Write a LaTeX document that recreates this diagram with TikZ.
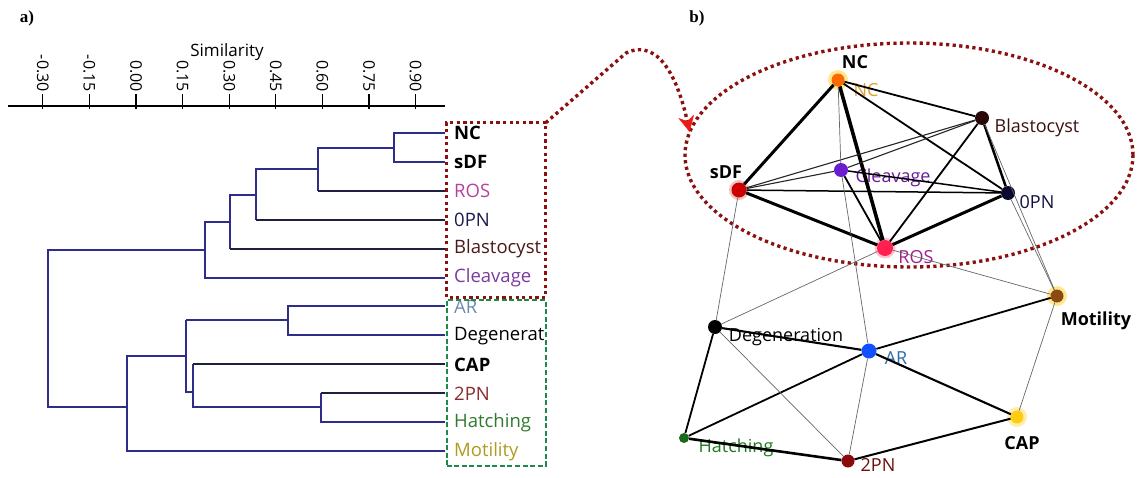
\documentclass[tikz,border=0pt]{standalone}
\usepackage{fontspec}
\setmainfont{Open Sans}
\newfontfamily\panelfont{Liberation Serif}
\usetikzlibrary{arrows.meta,shapes.geometric}

\definecolor{dnavy}{HTML}{2E2E8A}
\definecolor{dline}{HTML}{1E1E40}
\definecolor{boxred}{HTML}{8B1010}
\definecolor{boxgreen}{HTML}{1E8A4A}
\definecolor{arrred}{HTML}{F01818}
% dendrogram leaf colours
\definecolor{cROS}{HTML}{B8409A}
\definecolor{cOPN}{HTML}{1A1A50}
\definecolor{cBla}{HTML}{4A1818}
\definecolor{cCle}{HTML}{7A3A9E}
\definecolor{cAR}{HTML}{6A8AB0}
\definecolor{cTPN}{HTML}{8A2A2A}
\definecolor{cHat}{HTML}{2E7A2E}
\definecolor{cMot}{HTML}{B09A20}
% network label colours
\definecolor{nNC}{HTML}{E0A030}
\definecolor{nBla}{HTML}{3A1010}
\definecolor{nCle}{HTML}{6A1A9A}
\definecolor{nOPN}{HTML}{101040}
\definecolor{nROS}{HTML}{A0208A}
\definecolor{nAR}{HTML}{2E6AA8}
\definecolor{nHat}{HTML}{1E7A1E}
\definecolor{nTPN}{HTML}{6A1010}
% network node colours
\definecolor{fNC}{HTML}{FF6A00}
\definecolor{fBla}{HTML}{2A0808}
\definecolor{fsDF}{HTML}{CC0000}
\definecolor{fCle}{HTML}{6A1ED0}
\definecolor{fOPN}{HTML}{0A0A30}
\definecolor{fROS}{HTML}{FF2050}
\definecolor{fMot}{HTML}{8B4A10}
\definecolor{fAR}{HTML}{1050FF}
\definecolor{fHat}{HTML}{1A6A1A}
\definecolor{fTPN}{HTML}{8A0A0A}
\definecolor{fCAP}{HTML}{FFCC10}
\definecolor{glowY}{HTML}{FFD84A}

\tikzset{
  txt/.style={font=\fontsize{18}{21}\selectfont, inner sep=0pt},
  btxt/.style={font=\fontsize{18}{21}\selectfont\bfseries, inner sep=0pt},
  leaf/.style={font=\fontsize{18.5}{21}\selectfont, inner sep=0pt, anchor=west},
  bleaf/.style={font=\fontsize{18.5}{21}\selectfont\bfseries, inner sep=0pt, anchor=west},
  ticklab/.style={font=\fontsize{16}{18}\selectfont, rotate=-90, anchor=east, inner sep=0pt},
  dendro/.style={line width=1.4pt, dnavy},
  dendrodk/.style={line width=1.4pt, dline},
  reddots/.style={boxred, line width=3.4pt, dash pattern=on 3.2pt off 3.4pt},
  vtx/.style={circle, inner sep=0pt, minimum size=14pt},
  ethick/.style={black, line width=3pt},
  emid/.style={black, line width=1.8pt},
  elight/.style={black!85, line width=1.1pt},
  ethin/.style={black!60, line width=0.7pt},
  panel/.style={font=\panelfont\bfseries\fontsize{17}{19}\selectfont, inner sep=0pt}
}

\begin{document}
\begin{tikzpicture}[x=1pt,y=-1pt]
\useasboundingbox (0,0) rectangle (1143,477);

% ---------- panel a: dendrogram ----------
\node[panel] (pa) at (27,18) {a)};
\node[font=\fontsize{17}{20}\selectfont, inner sep=0pt] (simlab) at (227,52) {Similarity};

\draw[line width=1.4pt] (8,106) -- (445,106);
\foreach \v/\t in {-0.30/-0.30,-0.15/-0.15,0.00/0.00,0.15/0.15,0.30/0.30,0.45/0.45,0.60/0.60,0.75/0.75,0.90/0.90}{
  \pgfmathsetmacro{\xx}{136+\v*310.7}
  \draw[line width=1.2pt] (\xx,94) -- (\xx,109);
  \node[ticklab] at (\xx,92) {\t};
}

% leaves
\foreach \nm/\yy in {NC/133,sDF/162,ROS/191,OPN/220,Bla/249,Cle/278,AR/306,Deg/335,CAP/364,TPN/393,Hat/422,Mot/451}{
  \coordinate (L\nm) at (445,\yy);
}
\node[bleaf] at (454,133) {NC};
\node[bleaf] at (454,162) {sDF};
\node[leaf, text=cROS] at (454,191) {ROS};
\node[leaf, text=cOPN] at (454,220) {0PN};
\node[leaf, text=cBla] at (454,249) {Blastocyst};
\node[leaf, text=cCle] at (454,278) {Cleavage};
\node[leaf, text=cAR] at (454,307) {AR};
\node[leaf] at (454,336) {Degenerat};
\node[bleaf] at (454,365) {CAP};
\node[leaf, text=cTPN] at (454,394) {2PN};
\node[leaf, text=cHat] at (454,423) {Hatching};
\node[leaf, text=cMot] at (454,452) {Motility};

% upper cluster
\draw[dendro] (LNC) -- (394,133) -- (394,162) -- (LsDF);
\draw[dendro] (394,148) -- (318,148) -- (318,191);
\draw[dendrodk] (318,191) -- (LROS);
\draw[dendro] (318,169) -- (256,169) -- (256,220);
\draw[dendrodk] (256,220) -- (LOPN);
\draw[dendro] (256,195) -- (230,195) -- (230,249);
\draw[dendrodk] (230,249) -- (LBla);
\draw[dendro] (230,222) -- (205,222) -- (205,278) -- (LCle);
% root
\draw[dendro] (205,250) -- (48,250) -- (48,407) -- (127,407);
% lower cluster
\draw[dendro] (LAR) -- (288,306) -- (288,335) -- (LDeg);
\draw[dendro] (288,320) -- (186,320);
\draw[dendrodk] (LTPN) -- (321,393);
\draw[dendro] (321,393) -- (321,422) -- (LHat);
\draw[dendro] (321,407) -- (193,407) -- (193,364);
\draw[dendrodk] (193,364) -- (LCAP);
\draw[dendro] (193,392) -- (186,392) -- (186,320);
\draw[dendro] (186,356) -- (127,356) -- (127,451) -- (LMot);

% group boxes
\node[minimum width=99pt, minimum height=174pt, inner sep=0pt] (redbox) at (496,210) {};
\draw[reddots, line width=3pt] (redbox.south west) rectangle (redbox.north east);
\node[draw=boxgreen, dash pattern=on 5pt off 2.6pt, line width=2pt, minimum width=99pt, minimum height=166pt, inner sep=0pt] (greenbox) at (496,383) {};

% ---------- panel b: network ----------
\node[panel] (pb) at (697,18) {b)};

% cluster outline
\node[ellipse, minimum width=448pt, minimum height=224pt, inner sep=0pt] (cluster) at (909,155) {};
\draw[reddots] (909,155) ellipse [x radius=224pt, y radius=112pt];

% connector from the box to the cluster outline
\draw[reddots, -{Stealth[length=16pt, width=16pt, inset=5pt, color=arrred, fill=arrred, line width=0.5pt]}]
  (redbox.north east) -- (626,53) .. controls (662,36) and (680,88) .. (cluster.174);

% labels (drawn first so edges run across them)
\node[btxt] (tNC) at (855,62) {NC};
\node[txt, text=nNC] (tNC2) at (866,90) {NC};
\node[txt, text=nBla] (tBla) at (1037,128) {Blastocyst};
\node[btxt] (tsDF) at (726,172) {sDF};
\node[txt, text=nCle] (tCle) at (893,178) {Cleavage};
\node[txt, text=nOPN] (tOPN) at (1037,202) {0PN};
\node[txt, text=nROS] (tROS) at (916,257) {ROS};
\node[btxt] (tMot) at (1096,321) {Motility};
\node[txt] (tDeg) at (786,337) {Degeneration};
\node[txt, text=nAR] (tAR) at (896,358) {AR};
\node[txt, text=nHat] (tHat) at (736,448) {Hatching};
\node[txt, text=nTPN] (tTPN) at (878,465) {2PN};
\node[btxt] (tCAP) at (1022,443) {CAP};

% glows
\fill[glowY, opacity=0.6] (838,80) circle (10pt);
\fill[glowY, opacity=0.6] (1057,296) circle (10pt);
\fill[glowY, opacity=0.45] (1017,417) circle (10pt);
\fill[fROS!45, opacity=0.6] (885,248) circle (10.5pt);
\fill[fsDF!40, opacity=0.6] (739,190) circle (10pt);

% vertices
\node[vtx, fill=fNC, minimum size=13pt] (NC) at (838,80) {};
\node[vtx, fill=fBla] (Bla) at (982,118) {};
\node[vtx, fill=fsDF, minimum size=15pt] (sDF) at (739,190) {};
\node[vtx, fill=fCle] (Cle) at (841,170) {};
\node[vtx, fill=fOPN] (OPN) at (1008,193) {};
\node[vtx, fill=fROS, minimum size=16pt] (ROS) at (885,248) {};
\node[vtx, fill=fMot, minimum size=13pt] (Mot) at (1057,296) {};
\node[vtx, fill=black] (Deg) at (715,327) {};
\node[vtx, fill=fAR, minimum size=15pt] (AR) at (869,351) {};
\node[vtx, fill=fHat, minimum size=10pt] (Hat) at (684,438) {};
\node[vtx, fill=fTPN, minimum size=13pt] (TPN) at (848,461) {};
\node[vtx, fill=fCAP, minimum size=13pt] (CAP) at (1017,417) {};

% edges within the upper cluster
\draw[ethick, line width=3.6pt] (NC) -- (ROS);
\draw[ethick] (NC) -- (sDF);
\draw[ethick] (sDF) -- (ROS);
\draw[ethick] (OPN) -- (ROS);
\draw[ethick, line width=2.5pt] (Bla) -- (OPN);
\draw[emid] (NC) -- (Bla);
\draw[emid] (NC) -- (OPN);
\draw[emid, line width=1.5pt] (sDF) -- (OPN);
\draw[emid, line width=1.5pt] (Cle) -- (OPN);
\draw[emid] (Cle) -- (ROS);
\draw[emid] (Bla) -- (ROS);
\draw[elight] (Cle) -- (Bla);
\draw[elight] (sDF) -- (Cle);
\draw[elight] (sDF) -- (Bla);
\draw[ethin] (NC) -- (Cle);

% edges leaving the cluster
\draw[ethin] (Cle) -- (AR);
\draw[ethin] (sDF) -- (Deg);
\draw[ethin] (ROS) -- (Deg);
\draw[ethin] (ROS) -- (Mot);
\draw[ethin] (Bla) -- (Mot);
\draw[ethin] (OPN) -- (Mot);

% edges in the lower part
\draw[emid, line width=2.1pt] (Deg) -- (AR);
\draw[emid] (Deg) -- (Hat);
\draw[emid] (AR) -- (Mot);
\draw[emid] (AR) -- (Hat);
\draw[emid, line width=2.1pt] (AR) -- (CAP);
\draw[ethick, line width=2.6pt] (Hat) -- (TPN);
\draw[emid, line width=2pt] (TPN) -- (CAP);
\draw[ethin] (Deg) -- (TPN);
\draw[ethin] (AR) -- (TPN);
\draw[ethin] (CAP) -- (Mot);
\end{tikzpicture}
\end{document}
